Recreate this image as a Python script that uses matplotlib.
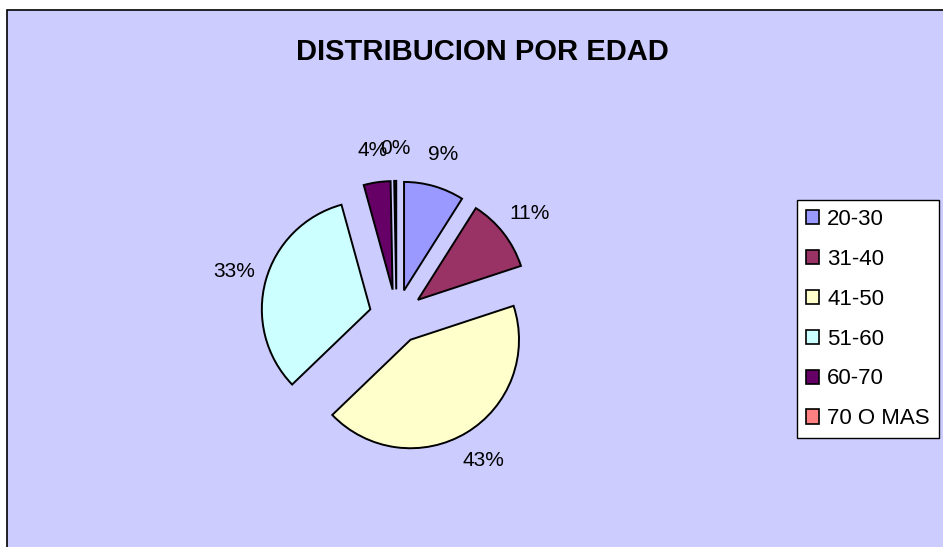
import matplotlib.pyplot as plt
from matplotlib.patches import Rectangle, Patch

plt.rcParams['font.family'] = ['Liberation Sans', 'DejaVu Sans']

# Data (percent of people per age group)
age_groups = ["20-30", "31-40", "41-50", "51-60", "60-70", "70 O MAS"]
shares = [9, 11, 43, 33, 4, 0.3]
slice_colors = ["#9999FF", "#993366", "#FFFFCC", "#CCFFFF", "#660066", "#FF8080"]
title_text = "DISTRIBUCION POR EDAD"

W, H = 943, 547
fig = plt.figure(figsize=(W / 100, H / 100), dpi=100)
fig.patch.set_facecolor("white")

# chart area (lavender box, cut off at right and bottom)
fig.patches.append(Rectangle((7 / W, -0.05), 1.1, (H - 10) / H + 0.05,
                             transform=fig.transFigure, facecolor="#CCCCFF",
                             edgecolor="black", linewidth=1.2, zorder=-5))

# pie axes: centre at (396.5, 316.5) px, radius ~108.5 px
cx, cy, r = 396.5, 316.5, 108.5
half = 200
ax = fig.add_axes([(cx - half) / W, (H - cy - half) / H, 2 * half / W, 2 * half / H])
ax.set_zorder(2)
ax.patch.set_visible(False)

wedges, texts, autotexts = ax.pie(
    shares, colors=slice_colors, startangle=90, counterclock=False,
    explode=[0.25] * len(shares), autopct="%1.0f%%", pctdistance=1.3,
    wedgeprops=dict(edgecolor="black", linewidth=1.4),
    textprops=dict(fontsize=15, color="black"))
for t in autotexts:
    t.set_clip_on(False)
# pie() resets the limits, so fix them afterwards
ax.set_aspect("auto")
ax.set_xlim(-half / r, half / r)
ax.set_ylim(-half / r, half / r)
ax.axis("off")

fig.text(482 / W, 1 - 52 / H, title_text, ha="center", va="center",
         fontsize=21, fontweight="bold")

handles = [Patch(facecolor=c, edgecolor="black", linewidth=1.2) for c in slice_colors]
leg = fig.legend(handles, age_groups, loc="upper left",
                 bbox_to_anchor=(797 / W, 1 - 200 / H), fontsize=16,
                 frameon=True, fancybox=False, edgecolor="black",
                 handlelength=0.6, handleheight=0.6, handletextpad=0.35,
                 labelspacing=0.85, borderpad=0.4, borderaxespad=0)
leg.set_zorder(3)
leg.get_frame().set_linewidth(1.0)
leg.get_frame().set_facecolor("white")
leg.get_frame().set_alpha(1)

fig.savefig("out.png", dpi=100)
